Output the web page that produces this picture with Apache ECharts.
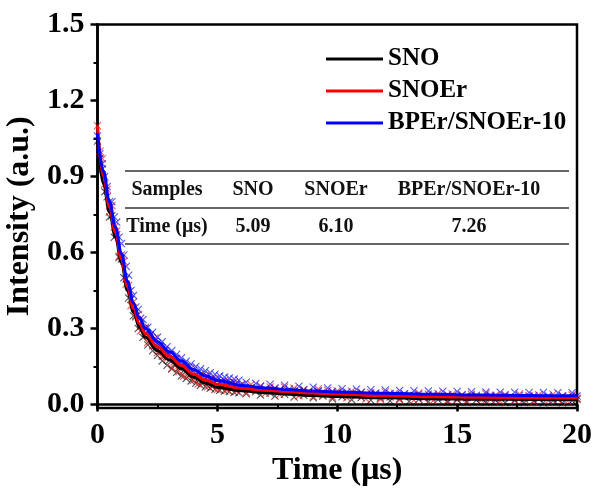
<!DOCTYPE html>
<html>
<head>
<meta charset="utf-8">
<script src="https://cdn.jsdelivr.net/npm/echarts@6/dist/echarts.min.js"></script>
<style>
html,body{margin:0;padding:0;background:#fff;}
#chart{width:594px;height:491px;}
</style>
</head>
<body>
<div id="chart"></div>
<script>
// ---- data ----
const seriesNames = ['SNO', 'SNOEr', 'BPEr/SNOEr-10'];
const timeData = [0,0.1,0.2,0.3,0.4,0.5,0.6,0.7,0.8,0.9,
1,1.1,1.2,1.3,1.4,1.5,1.6,1.7,1.8,1.9,
2,2.1,2.2,2.3,2.4,2.5,2.6,2.7,2.8,2.9,
3,3.1,3.2,3.3,3.4,3.5,3.6,3.7,3.8,3.9,
4,4.1,4.2,4.3,4.4,4.5,4.6,4.7,4.8,4.9,
5,5.1,5.2,5.3,5.4,5.5,5.6,5.7,5.8,5.9,
6,
6.2,6.4,6.6,6.8,7,7.2,7.4,7.6,7.8,8,
8.2,8.4,8.6,8.8,9,9.2,9.4,9.6,9.8,10,
10.2,10.4,10.6,10.8,11,11.2,11.4,11.6,11.8,12,
12.2,12.4,12.6,12.8,13,13.2,13.4,13.6,13.8,14,
14.2,14.4,14.6,14.8,15,15.2,15.4,15.6,15.8,16,
16.2,16.4,16.6,16.8,17,17.2,17.4,17.6,17.8,18,
18.2,18.4,18.6,18.8,19,19.2,19.4,19.6,19.8,20];

const snoData = [1.04,0.97,0.93,0.84,0.82,0.74,0.745,0.66,0.67,0.58,
0.575,0.50,0.495,0.42,0.415,0.35,0.35,0.30,0.31,0.265,
0.28,0.235,0.255,0.212,0.232,0.193,0.21,0.172,0.192,0.155,
0.175,0.14,0.158,0.127,0.145,0.113,0.133,0.102,0.122,0.093,
0.11,0.084,0.101,0.076,0.093,0.07,0.087,0.064,0.081,0.06,
0.077,0.056,0.073,0.053,0.07,0.051,0.067,0.048,0.064,0.046,
0.061,
0.042,0.066,0.05,0.037,0.061,0.045,0.033,0.058,0.04,0.052,
0.029,0.053,0.036,0.048,0.026,0.05,0.033,0.044,0.022,0.046,
0.03,0.04,0.019,0.043,0.027,0.037,0.017,0.04,0.025,0.034,
0.014,0.037,0.022,0.031,0.012,0.035,0.02,0.029,0.011,0.033,
0.019,0.027,0.01,0.032,0.018,0.026,0.009,0.031,0.017,0.025,
0.009,0.03,0.016,0.024,0.008,0.029,0.016,0.023,0.008,0.029,
0.015,0.023,0.007,0.028,0.015,0.022,0.007,0.028,0.014,0.021];

const snoErData = [1.10,1.00,0.97,0.87,0.85,0.76,0.785,0.70,0.685,0.585,
0.59,0.565,0.475,0.47,0.39,0.405,0.345,0.355,0.29,0.30,
0.305,0.245,0.272,0.232,0.262,0.205,0.228,0.19,0.218,0.182,
0.198,0.143,0.168,0.18,0.13,0.157,0.112,0.149,0.114,0.142,
0.095,0.119,0.081,0.12,0.087,0.113,0.07,0.098,0.07,0.101,
0.059,0.086,0.066,0.095,0.056,0.085,0.064,0.088,0.052,0.072,
0.08,
0.048,0.079,0.056,0.074,0.043,0.069,0.062,0.039,0.068,0.047,
0.064,0.034,0.059,0.052,0.031,0.061,0.038,0.055,0.029,0.053,
0.044,0.026,0.052,0.035,0.048,0.022,0.046,0.041,0.02,0.049,
0.029,0.044,0.018,0.041,0.036,0.017,0.045,0.024,0.04,0.015,
0.043,0.033,0.016,0.041,0.022,0.038,0.014,0.04,0.031,0.017,
0.042,0.02,0.036,0.013,0.039,0.029,0.016,0.041,0.021,0.035,
0.012,0.038,0.027,0.015,0.04,0.019,0.034,0.013,0.037,0.024];

const bpErData = [1.06,0.99,0.95,0.90,0.86,0.80,0.80,0.74,0.72,0.66,
0.635,0.59,0.545,0.51,0.45,0.43,0.385,0.375,0.34,0.335,
0.30,0.305,0.275,0.285,0.25,0.265,0.232,0.248,0.212,0.228,
0.196,0.213,0.18,0.198,0.166,0.184,0.154,0.171,0.144,0.16,
0.133,0.15,0.124,0.141,0.116,0.133,0.109,0.125,0.102,0.119,
0.096,0.113,0.091,0.108,0.087,0.104,0.083,0.1,0.079,0.096,
0.076,
0.088,0.064,0.083,0.071,0.058,0.08,0.065,0.054,0.076,0.061,
0.05,0.072,0.057,0.047,0.068,0.054,0.043,0.065,0.051,0.04,
0.062,0.049,0.038,0.06,0.047,0.036,0.058,0.045,0.034,0.057,
0.043,0.032,0.055,0.042,0.031,0.054,0.04,0.029,0.053,0.039,
0.028,0.052,0.038,0.027,0.051,0.037,0.026,0.05,0.036,0.025,
0.049,0.036,0.025,0.048,0.035,0.024,0.048,0.035,0.024,0.047,
0.034,0.023,0.047,0.034,0.023,0.046,0.033,0.022,0.046,0.033];

const fitTime = [0,0.25,0.5,0.75,1,1.25,1.5,1.75,2,2.5,3,3.5,4,4.5,5,6,7,8,9,10,12,14,16,18,20];
const snoFit = [1.05,0.87,0.76,0.66,0.56,0.45,0.365,0.305,0.265,0.212,0.176,0.142,0.108,0.085,0.068,0.054,0.046,0.040,0.035,0.031,0.026,0.023,0.021,0.020,0.020];
const snoErFit = [1.10,0.90,0.78,0.68,0.575,0.465,0.38,0.32,0.28,0.228,0.19,0.155,0.12,0.097,0.08,0.064,0.056,0.050,0.045,0.041,0.034,0.030,0.028,0.027,0.026];
const bpErFit = [1.07,0.92,0.80,0.70,0.595,0.485,0.40,0.34,0.30,0.248,0.208,0.172,0.138,0.113,0.095,0.075,0.065,0.058,0.053,0.049,0.044,0.040,0.037,0.035,0.034];

const yMajorTicks = [0, 0.3, 0.6, 0.9, 1.2, 1.5];
const yMinorTicks = [0.15, 0.45, 0.75, 1.05, 1.35];
const tableHeader = ['Samples', 'SNO', 'SNOEr', 'BPEr/SNOEr-10'];
const tableRow = ['Time (μs)', '5.09', '6.10', '7.26'];

// ---- chart ----
const FONT = '"Liberation Serif", "Times New Roman", serif';
const colors = ['#000000', '#ff0000', '#0000ff'];
const scatterSets = [snoData, snoErData, bpErData];
const fitSets = [snoFit, snoErFit, bpErFit];
const crossPath = 'path://M0,1L1,0L5,4L9,0L10,1L6,5L10,9L9,10L5,6L1,10L0,9L4,5Z';

const series = [];
scatterSets.forEach((arr, i) => {
  series.push({
    name: seriesNames[i] + ' data',
    type: 'scatter',
    data: timeData.map((t, k) => [t, arr[k]]),
    symbol: crossPath,
    symbolSize: 8,
    itemStyle: { color: colors[i], opacity: 0.65 },
    z: 2,
    silent: true
  });
});
fitSets.forEach((arr, i) => {
  series.push({
    name: seriesNames[i],
    type: 'line',
    data: fitTime.map((t, k) => [t, arr[k]]),
    smooth: 0.4,
    smoothMonotone: 'x',
    symbol: 'none',
    lineStyle: { color: colors[i], width: 3 },
    itemStyle: { color: colors[i] },
    z: 3
  });
});

const colX = [167, 253, 336, 469];
const graphic = [];
[171, 208, 244].forEach(y => {
  graphic.push({ type: 'line', shape: { x1: 125, y1: y, x2: 569, y2: y },
    style: { stroke: '#333', lineWidth: 1.6 }, z: 10 });
});
[[tableHeader, 190], [tableRow, 227]].forEach(([row, y]) => {
  row.forEach((txt, i) => {
    graphic.push({ type: 'text', x: colX[i], y: y, z: 10,
      style: { text: txt, font: 'bold 20px ' + FONT, fill: '#111',
        textAlign: 'center', textVerticalAlign: 'middle' } });
  });
});

const chart = echarts.init(document.getElementById('chart'), null, { renderer: 'canvas' });
const gridPos = { left: 97.5, right: 17, top: 24.5, bottom: 83, containLabel: false, outerBoundsMode: 'none' };
chart.setOption({
  animation: false,
  backgroundColor: '#fff',
  grid: [
    Object.assign({ show: true, borderColor: '#000', borderWidth: 2.5, backgroundColor: 'transparent' }, gridPos),
    Object.assign({}, gridPos)
  ],
  legend: {
    data: seriesNames,
    orient: 'vertical',
    left: 326, top: 46,
    padding: 0,
    itemWidth: 57, itemHeight: 3, itemGap: 6,
    icon: 'rect',
    textStyle: { fontSize: 25, fontWeight: 'bold', fontFamily: FONT, color: '#000', lineHeight: 26 }
  },
  xAxis: [{
    type: 'value', gridIndex: 0, min: 0, max: 20, interval: 5,
    name: 'Time (μs)', nameLocation: 'middle', nameGap: 46,
    nameTextStyle: { fontSize: 32, fontWeight: 'bold', fontFamily: FONT, color: '#000' },
    axisLine: { lineStyle: { color: '#000', width: 2.5 } },
    axisTick: { length: 7, lineStyle: { color: '#000', width: 2.5 } },
    minorTick: { show: true, splitNumber: 2, length: 4, lineStyle: { color: '#000', width: 2 } },
    splitLine: { show: false },
    axisLabel: { fontSize: 30, fontWeight: 'bold', fontFamily: FONT, color: '#000', margin: 12 }
  }, {
    type: 'value', gridIndex: 1, min: 0, max: 20, show: false
  }],
  yAxis: [{
    type: 'value', gridIndex: 0, min: -0.014, max: 1.5,
    name: 'Intensity (a.u.)', nameLocation: 'middle', nameGap: 55,
    nameTextStyle: { fontSize: 32, fontWeight: 'bold', fontFamily: FONT, color: '#000' },
    axisLine: { lineStyle: { color: '#000', width: 2.5 } },
    axisTick: { customValues: yMajorTicks, length: 7, lineStyle: { color: '#000', width: 2.5 } },
    splitLine: { show: false },
    axisLabel: { customValues: yMajorTicks, formatter: v => v.toFixed(1),
      fontSize: 30, fontWeight: 'bold', fontFamily: FONT, color: '#000', margin: 13 }
  }, {
    type: 'value', gridIndex: 1, min: -0.014, max: 1.5,
    axisLine: { show: false },
    axisLabel: { show: false },
    splitLine: { show: false },
    axisTick: { customValues: yMinorTicks, length: 4, lineStyle: { color: '#000', width: 2 } }
  }],
  series: series,
  graphic: graphic
});
</script>
</body>
</html>
